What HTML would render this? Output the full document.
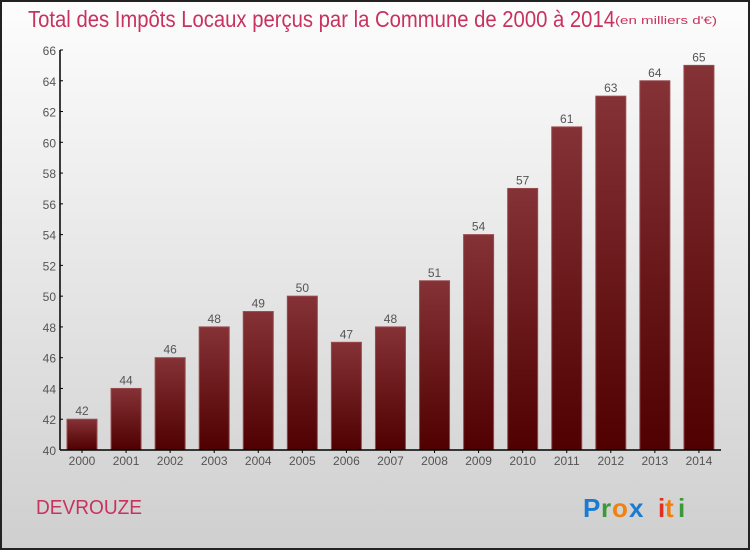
<!DOCTYPE html>
<html><head><meta charset="utf-8"><style>
body{margin:0;width:750px;height:550px;overflow:hidden;font-family:"Liberation Sans",sans-serif}
</style></head><body>
<svg width="750" height="550" xmlns="http://www.w3.org/2000/svg">
<defs>
<linearGradient id="bg" x1="0" y1="0" x2="0" y2="1"><stop offset="0" stop-color="#fdfdfd"/><stop offset="1" stop-color="#cfcfcf"/></linearGradient>
<linearGradient id="bar" x1="0" y1="0" x2="0" y2="1"><stop offset="0" stop-color="#853236"/><stop offset="1" stop-color="#500000"/></linearGradient>
</defs>
<rect x="1" y="1" width="748" height="548" fill="url(#bg)" stroke="#222" stroke-width="2"/>
<text x="28" y="27" font-size="23" fill="#c8325e" textLength="587" lengthAdjust="spacingAndGlyphs">Total des Impôts Locaux perçus par la Commune de 2000 à 2014</text>
<text x="615" y="24" font-size="11" fill="#c8325e" textLength="102" lengthAdjust="spacingAndGlyphs">(en milliers d'€)</text>
<g id="plot"></g>
<text x="36" y="514" font-size="20" fill="#c8325e" textLength="106" lengthAdjust="spacingAndGlyphs">DEVROUZE</text>
<g font-size="26" font-weight="bold">
<text x="583" y="517" fill="#1a7bd0">P</text><text x="601" y="517" fill="#3a9a3a">r</text><text x="612" y="517" fill="#f08010">o</text><text x="629" y="517" fill="#1a7bd0">x</text><text x="658" y="517" fill="#e03020">i</text><text x="665" y="517" fill="#f08010">t</text><text x="678" y="517" fill="#3a9a3a">i</text>
</g>
</svg>
<script>
const years=["2000","2001","2002","2003","2004","2005","2006","2007","2008","2009","2010","2011","2012","2013","2014"];
const values=[42,44,46,48,49,50,47,48,51,54,57,61,63,64,65];
const yTicks=[40,42,44,46,48,50,52,54,56,58,60,62,64,66];
const NS="http://www.w3.org/2000/svg";
const g=document.getElementById('plot');
const x0=60,x1=721,yTop=50,yBot=450,vMin=40,vMax=66;
const step=(x1-x0)/years.length;
const y=v=>yBot-(v-vMin)/(vMax-vMin)*(yBot-yTop);
function mk(t,a){const e=document.createElementNS(NS,t);for(const k in a)e.setAttribute(k,a[k]);g.appendChild(e);return e;}
years.forEach((yr,i)=>{
  const bx=x0+7+i*step,by=y(values[i]);
  const r=mk('rect',{x:bx,y:by,width:30,height:yBot-by,fill:'url(#bar)',stroke:'#9a4a4e','stroke-width':1});
  
  
  const t=mk('text',{x:bx+15,y:by-4,'text-anchor':'middle','font-size':12,fill:'#555'});t.textContent=values[i];
  
  
  const xl=mk('text',{x:bx+15,y:465,'text-anchor':'middle','font-size':12,fill:'#555'});xl.textContent=yr;
  
  
  const tk=mk('line',{x1:bx+15,x2:bx+15,y1:yBot,y2:yBot+3,stroke:'#000'});
  
  
});
yTicks.forEach(v=>{
  const t=mk('text',{x:56,y:y(v)+5,'text-anchor':'end','font-size':12,fill:'#555'});t.textContent=v;
  
  
  const l=mk('line',{x1:x0,x2:x0+3,y1:y(v),y2:y(v),stroke:'#000'});
  
  
});
const ya=mk('line',{x1:x0,x2:x0,y1:yTop,y2:yBot,stroke:'#000','stroke-width':1.5});


const xa=mk('line',{x1:x0,x2:x1,y1:yBot,y2:yBot,stroke:'#000','stroke-width':1.5});


</script>
</body></html>
